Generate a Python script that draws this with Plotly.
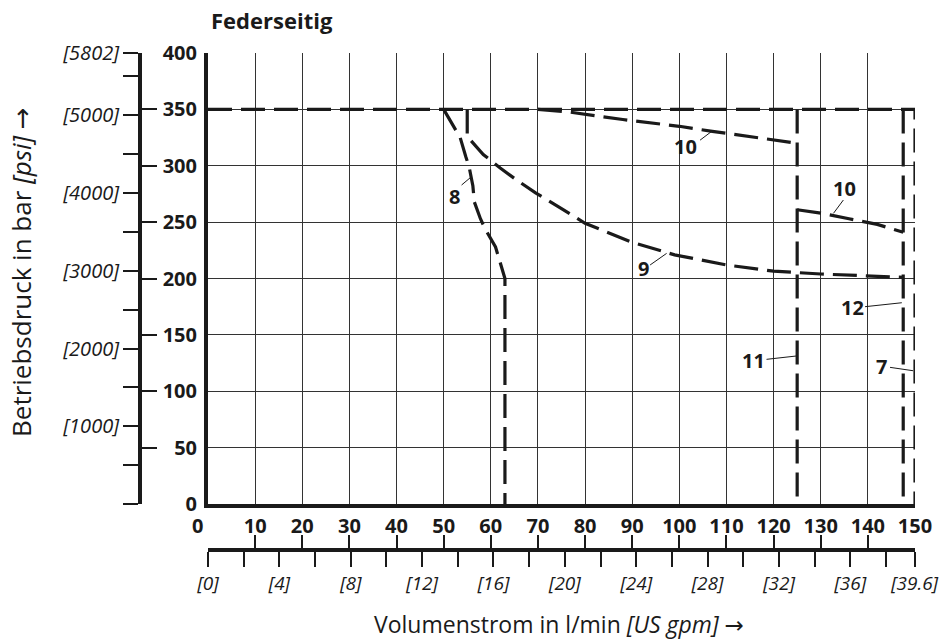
import plotly.graph_objects as go

# ---------------- data ----------------
# curve 7 (limit line at 350 bar and vertical at 150 l/min)
c7_x = [0, 150, 150]
c7_y = [350, 350, 0]
# curve 12
c12_x = [147.5, 147.5]
c12_y = [350, 0]
# curve 11
c11_x = [125, 125]
c11_y = [350, 0]
# curve 10 (upper part)
c10a_x = [70, 76, 88, 100, 107, 115, 123.5, 125]
c10a_y = [350, 348, 341, 335, 330.5, 326, 321.5, 320]
# curve 10 (lower part)
c10b_x = [125, 130, 136, 142, 147.5]
c10b_y = [261, 258, 253, 248, 241]
# curve 9
c9_x = [55, 55, 58.4, 62, 65.6, 69.5, 75, 80, 90, 99, 110, 120, 130, 140, 147.5]
c9_y = [350, 326, 310, 298, 287, 276, 262, 249, 232, 221, 212, 206.5, 204, 202, 201]
# curve 8
c8_x = [50, 52.3, 53.5, 54.7, 55.4, 56.2, 56.5, 57.8, 58.8, 61, 63, 63]
c8_y = [350, 334, 325, 308, 299, 282, 268, 253, 244, 228, 200, 0]

curves_x = [c7_x, c12_x, c11_x, c10a_x, c10b_x, c9_x, c8_x]
curves_y = [c7_y, c12_y, c11_y, c10a_y, c10b_y, c9_y, c8_y]

# curve labels and leader lines
label_text = ["10", "10", "8", "9", "12", "11", "7"]
label_x = [101.3, 135.0, 52.4, 92.3, 136.7, 115.7, 142.8]
label_y = [317, 280, 272.5, 209, 174, 127.7, 121.8]
leader_x0 = [104.4, 134.8, 53.8, 93.8, 139.4, 118.5, 144.7]
leader_y0 = [322.7, 269.6, 282.9, 212.0, 175.0, 128.3, 121.2]
leader_x1 = [106.8, 132.7, 55.9, 97.3, 147.2, 124.9, 149.6]
leader_y1 = [330.3, 257.8, 290.3, 222.3, 178.5, 131.3, 118.2]

# axes
x_range = [0, 150]
y_range = [0, 400]
x_ticks = list(range(0, 151, 10))
x_ticktext = ["0\u00a0\u00a0\u00a0\u00a0"] + [str(v) for v in x_ticks[1:]]
y_ticks = list(range(0, 401, 50))
LPM_PER_GPM = 3.785411784
BAR_TO_PSI = 14.5038
gpm_major = [0, 4, 8, 12, 16, 20, 24, 28, 32, 36, 39.6]
gpm_text = ["[0]", "[4]", "[8]", "[12]", "[16]", "[20]", "[24]", "[28]", "[32]", "[36]", "[39.6]"]
gpm_minor = [2, 6, 10, 14, 18, 22, 26, 30, 34, 38]
psi_ticks = [0, 500, 1000, 1500, 2000, 2500, 3000, 3500, 4000, 4500, 5000, 5500, 5801.5]
psi_text = ["", "", "[1000]", "", "[2000]", "", "[3000]", "", "[4000]", "", "[5000]", "", "[5802]"]

# ---------------- figure ----------------
W, H = 942, 644
ML, MR, MT, MB = 100, 27, 53, 40
PW, PH = W - ML - MR, H - MT - MB
px_plot_left, px_plot_bottom = 208, 504
px_yaxis2, px_xaxis2 = 140, 550

def px2paper_x(px):
    return (px - ML) / PW

def px2paper_y(py):
    return (H - MB - py) / PH

FONT = "Open Sans"
INK = "#1a1a1a"
GRID = "#333333"
ARROW = '<span style="font-family:DejaVu Sans">→</span>'

fig = go.Figure()
for cx, cy in zip(curves_x, curves_y):
    fig.add_trace(go.Scatter(x=cx, y=cy, mode="lines",
                             line=dict(color=INK, width=3.2, dash="24px,9px"),
                             hoverinfo="skip", showlegend=False))

for t, lx, ly in zip(label_text, label_x, label_y):
    fig.add_annotation(x=lx, y=ly, xref="x", yref="y", text="<b>%s</b>" % t,
                       showarrow=False, font=dict(family=FONT, size=20, color=INK))
for x0, y0, x1, y1 in zip(leader_x0, leader_y0, leader_x1, leader_y1):
    fig.add_shape(type="line", xref="x", yref="y", x0=x0, y0=y0, x1=x1, y1=y1,
                  line=dict(color=INK, width=1))

xdom = [px2paper_x(px_plot_left), 1]
ydom = [px2paper_y(px_plot_bottom), 1]

fig.update_layout(
    width=W, height=H, margin=dict(l=ML, r=MR, t=MT, b=MB, autoexpand=False),
    plot_bgcolor="white", paper_bgcolor="white", showlegend=False,
    xaxis=dict(domain=xdom, range=x_range, tickvals=x_ticks, ticktext=x_ticktext,
               showgrid=True, gridcolor=GRID, gridwidth=1.3, zeroline=False,
               showline=True, linewidth=4, linecolor=INK, automargin=False,
               ticks="outside", ticklen=1, tickcolor="rgba(0,0,0,0)",
               tickfont=dict(family=FONT, size=20, color=INK, weight="bold"),
               anchor="y"),
    yaxis=dict(domain=ydom, range=y_range, tickvals=y_ticks,
               showgrid=True, gridcolor=GRID, gridwidth=1.3, zeroline=False,
               showline=True, linewidth=4, linecolor=INK, automargin=False,
               ticks="outside", ticklen=3, tickcolor="rgba(0,0,0,0)",
               tickfont=dict(family=FONT, size=20, color=INK, weight="bold"),
               anchor="x"),
    # left secondary axis: bar ticks (pointing right)
    yaxis2=dict(overlaying="y", anchor="free", position=px2paper_x(px_yaxis2), side="left",
                range=y_range, tickvals=y_ticks, showticklabels=False, automargin=False,
                ticks="inside", ticklen=15, tickwidth=2, tickcolor=INK,
                showline=True, linewidth=4, linecolor=INK, showgrid=False, zeroline=False),
    # left secondary axis: psi ticks (pointing left)
    yaxis3=dict(overlaying="y", anchor="free", position=px2paper_x(px_yaxis2), side="left",
                range=[0, y_range[1] * BAR_TO_PSI], tickvals=psi_ticks, ticktext=psi_text,
                ticks="outside", ticklen=15, tickwidth=2, tickcolor=INK, automargin=False,
                tickfont=dict(family=FONT, size=20, color=INK, style="italic"),
                showline=True, linewidth=4, linecolor=INK, showgrid=False, zeroline=False),
    # bottom secondary axis: l/min ticks (pointing up)
    xaxis2=dict(overlaying="x", anchor="free", position=px2paper_y(px_xaxis2), side="bottom",
                range=x_range, tickvals=x_ticks, showticklabels=False, automargin=False,
                ticks="inside", ticklen=13, tickwidth=2, tickcolor=INK,
                showline=True, linewidth=4, linecolor=INK, showgrid=False, zeroline=False),
    # bottom secondary axis: US gpm ticks (pointing down)
    xaxis3=dict(overlaying="x", anchor="free", position=px2paper_y(px_xaxis2), side="bottom",
                range=[0, x_range[1] / LPM_PER_GPM], tickvals=gpm_major, ticktext=gpm_text,
                ticks="outside", ticklen=15, tickwidth=2, tickcolor=INK, automargin=False,
                minor=dict(tickvals=gpm_minor, ticks="outside", ticklen=15, tickwidth=2, tickcolor=INK),
                tickfont=dict(family=FONT, size=19, color=INK, style="italic"),
                showline=True, linewidth=4, linecolor=INK, showgrid=False, zeroline=False),
)

# dummy traces so the overlay axes are drawn
fig.add_trace(go.Scatter(x=[None], y=[None], xaxis="x", yaxis="y2", showlegend=False))
fig.add_trace(go.Scatter(x=[None], y=[None], xaxis="x", yaxis="y3", showlegend=False))
fig.add_trace(go.Scatter(x=[None], y=[None], xaxis="x2", yaxis="y", showlegend=False))
fig.add_trace(go.Scatter(x=[None], y=[None], xaxis="x3", yaxis="y", showlegend=False))

# titles
fig.add_annotation(xref="paper", yref="paper", x=px2paper_x(209), y=px2paper_y(20),
                   xanchor="left", yanchor="middle", showarrow=False,
                   text="<b>Federseitig</b>", font=dict(family=FONT, size=22, color=INK))
fig.add_annotation(xref="paper", yref="paper", x=px2paper_x(559), y=px2paper_y(624),
                   xanchor="center", yanchor="middle", showarrow=False,
                   text="Volumenstrom in l/min <i>[US gpm]</i> " + ARROW,
                   font=dict(family=FONT, size=23, color=INK))
fig.add_annotation(xref="paper", yref="paper", x=px2paper_x(21), y=px2paper_y(272),
                   xanchor="center", yanchor="middle", showarrow=False, textangle=-90,
                   text="Betriebsdruck in bar <i>[psi]</i> " + ARROW,
                   font=dict(family=FONT, size=26, color=INK))

fig.write_html("out.html", config={"displayModeBar": False},
               post_script="document.body.style.margin='0px';document.body.style.padding='0px';")
